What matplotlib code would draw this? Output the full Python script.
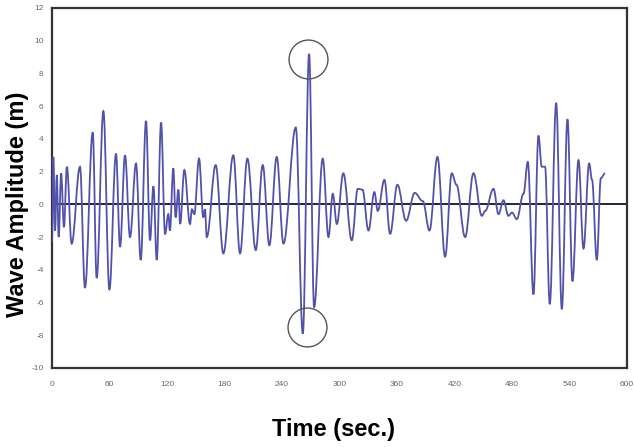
import matplotlib
matplotlib.use("Agg")
import matplotlib.pyplot as plt
from matplotlib.path import Path
from matplotlib.patches import PathPatch

# Time (sec.) of successive turning points
time_s = [0, 1.4, 3.2, 5, 7, 9.5, 12.5, 15.5, 20.5, 29.2, 34.4, 42.5, 46.6, 53.6, 59.9,
          66.8, 71, 76.2, 81.4, 87.7, 92.6, 98.1, 102.3, 105.8, 109.3, 113.8, 118, 121.4,
          123, 126.6, 129, 131.9, 133.7, 138.1, 144, 146, 148.5, 153.4, 157.9, 159.6, 161.5,
          170.8, 178.8, 189.2, 196.2, 203.9, 212.6, 219.9, 226.8, 234.5, 241.5, 254.4,
          261.7, 268.3, 273.5, 282.5, 288.5, 293, 297.2, 304, 312.8, 319.1, 324, 330.2,
          336.4, 339.9, 346.9, 352.8, 360.4, 369.5, 378.5, 386.9, 393.9, 402.2, 410.2,
          417.2, 422, 431.1, 439.8, 448.5, 452, 460.7, 465.9, 471.1, 476.3, 480, 485, 492,
          496.5, 502.4, 507.6, 511.1, 514.5, 519.4, 526.1, 532, 537.9, 543.1, 549.4, 554.6,
          560.5, 563.5, 568.5, 572.7, 577.2]
# Wave amplitude (m) at those turning points
amplitude_m = [-2.3, 2.9, -1.6, 1.8, -2.0, 1.9, -1.4, 2.3, -2.4, 2.3, -5.1, 4.4, -4.5, 5.7, -5.2,
               3.1, -2.6, 3.0, -2.0, 2.5, -3.4, 5.1, -2.2, 1.1, -3.4, 5.0, -1.8, -0.6,
               -1.6, 2.2, -0.8, 0.9, -1.2, 2.1, -1.2, -0.3, -0.6, 2.8, -0.8, -0.3, -2.0,
               2.4, -3.0, 3.0, -3.0, 2.8, -2.8, 2.4, -2.5, 2.9, -2.4, 4.7,
               -7.9, 9.2, -6.3, 2.8, -2.0, 0.65, -1.2, 1.9, -2.2, 0.95, 0.9, -1.6,
               0.75, -0.4, 1.5, -1.8, 1.2, -1.0, 0.7, 0.2, -1.6, 2.9, -3.2,
               1.9, 1.2, -2.0, 1.9, -0.7, -0.4, 0.95, -0.6, 0.25, -0.7, -0.5, -0.9, 0.65,
               2.6, -5.5, 4.2, 2.3, 2.3, -6.1, 6.2, -6.4, 5.2, -4.7, 2.7, -2.7,
               2.5, 1.5, -3.4, 1.6, 1.9]

# Circled extremes (annotation)
circle_t = [267.6, 265.9]
circle_v = [8.9, -7.5]

x_ticks = [0, 60, 120, 180, 240, 300, 360, 420, 480, 540, 600]
y_ticks = [-10, -8, -6, -4, -2, 0, 2, 4, 6, 8, 10, 12]

plt.rcParams['font.family'] = ['Liberation Sans', 'DejaVu Sans']
plt.rcParams['axes.unicode_minus'] = False

fig = plt.figure(figsize=(6.34, 4.47), dpi=100)
ax = fig.add_axes([52/634, 1 - 368/447, 575/634, 360/447])

ax.axhline(0, color='#111133', lw=1.3, zorder=2)

# draw the wave as smooth segments between turning points (flat tangent at each turning point)
verts = [(time_s[0], amplitude_m[0])]
codes = [Path.MOVETO]
k = 0.38
for i in range(1, len(time_s)):
    t0, v0 = time_s[i - 1], amplitude_m[i - 1]
    t1, v1 = time_s[i], amplitude_m[i]
    dt = t1 - t0
    verts += [(t0 + k * dt, v0), (t1 - k * dt, v1), (t1, v1)]
    codes += [Path.CURVE4] * 3
wave = PathPatch(Path(verts, codes), facecolor='none', edgecolor='#5252ac', lw=1.3, zorder=3)
ax.add_patch(wave)

ax.plot(circle_t, circle_v, linestyle='none', marker='o', markersize=28,
        markerfacecolor='none', markeredgecolor='#555555', markeredgewidth=1.0, zorder=4)

ax.set_xlim(0, 600)
ax.set_ylim(-10, 12)
ax.set_xticks(x_ticks)
ax.set_yticks(y_ticks)
ax.tick_params(axis='both', length=0, labelsize=6, labelcolor='#666666')
ax.tick_params(axis='x', pad=9)
ax.tick_params(axis='y', pad=6)

for s in ax.spines.values():
    s.set_color('#333333')
    s.set_linewidth(1.6)

ax.set_xlabel('Time (sec.)', fontsize=17, fontweight='bold')
ax.set_ylabel('Wave Amplitude (m)', fontsize=17, fontweight='bold')
ax.xaxis.set_label_coords(0.49, -0.139)
ax.yaxis.set_label_coords(-0.040, 0.455)

fig.savefig('out.png', dpi=100)
